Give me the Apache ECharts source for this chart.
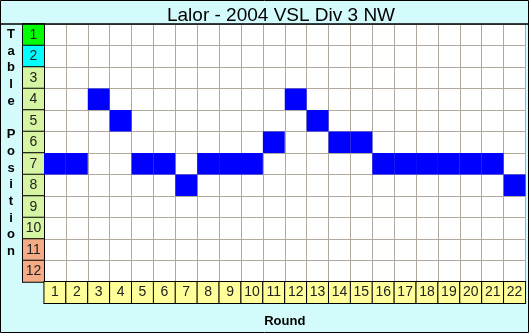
<!DOCTYPE html>
<html><head><meta charset="utf-8">
<script src="https://cdn.jsdelivr.net/npm/echarts@6/dist/echarts.min.js"></script>
<style>html,body{margin:0;padding:0;background:#fff}#c{width:529px;height:333px}</style>
</head><body><div id="c"></div>
<script>
const title = 'Lalor - 2004 VSL Div 3 NW';
const rounds = ['1','2','3','4','5','6','7','8','9','10','11','12','13','14','15','16','17','18','19','20','21','22'];
const positionLabels = ['1','2','3','4','5','6','7','8','9','10','11','12'];
const tablePosition = [7,7,4,5,7,7,8,7,7,7,6,4,5,6,6,7,7,7,7,7,7,8];
const rowColors = ['#00ff00','#00ffff','#d6f5a3','#d6f5a3','#d6f5a3','#d6f5a3','#d6f5a3','#d6f5a3','#d6f5a3','#d6f5a3','#f5ac86','#f5ac86'];

const chart = echarts.init(document.getElementById('c'), null, {renderer:'canvas'});
const yRich = {};
positionLabels.forEach((p,i)=>{
  yRich['r'+i] = {backgroundColor: rowColors[i], borderColor:'#000', borderWidth:1, width:21, height:21, lineHeight:21, align:'center', fontSize:14, color:'#222', fontFamily:'Arial, Liberation Sans'};
});
const cells = tablePosition.map((p,i)=>[i, p-1]);
chart.setOption({
  backgroundColor:'#d4fbfb',
  animation:false,
  title:{text:title, left:276, top:1, textAlign:'center', textStyle:{fontFamily:'Arial, Liberation Sans', fontSize:19, fontWeight:'normal', color:'#000'}},
  grid:{left:44, top:24, width:484, height:264, show:true, backgroundColor:'#fff', borderWidth:0},
  xAxis:{type:'category', data:rounds, position:'bottom',
    axisLine:{show:false}, axisTick:{show:false},
    splitLine:{show:true, interval:0, lineStyle:{color:'#b0a89e', width:1}},
    axisLabel:{interval:0, margin:0, formatter:v=>'{c|'+v+'}',
      rich:{c:{backgroundColor:'#ffff99', borderColor:'#000', borderWidth:1, width:21, height:21, lineHeight:21, align:'center', fontSize:14, color:'#222', fontFamily:'Arial, Liberation Sans'}}},
    name:'Round', nameLocation:'middle', nameGap:33,
    nameTextStyle:{fontFamily:'Arial, Liberation Sans', fontSize:13, fontWeight:'bold', color:'#000'}
  },
  yAxis:{type:'category', data:positionLabels, inverse:true,
    axisLine:{show:false}, axisTick:{show:false},
    splitLine:{show:true, interval:0, lineStyle:{color:'#b0a89e', width:1}},
    axisLabel:{interval:0, margin:0, formatter:(v)=>'{r'+positionLabels.indexOf(v)+'|'+v+'}', rich:yRich}
  },
  graphic:[
    {type:'rect', shape:{x:0,y:24,width:529,height:0}, style:{stroke:'#000', lineWidth:1}, silent:true, z:100},
    {type:'rect', shape:{x:0.5,y:0.5,width:528,height:332}, style:{fill:null, stroke:'#000', lineWidth:1}, silent:true, z:100},
    {type:'text', x:11, y:26, style:{text:'T\na\nb\nl\ne\n \nP\no\ns\ni\nt\ni\no\nn', font:'bold 13px Arial, Liberation Sans', fill:'#000', lineHeight:16.7, align:'center', verticalAlign:'top'}, z:100}
  ],
  series:[{
    type:'custom',
    data:cells,
    renderItem:(params, api)=>{
      const p = api.coord([api.value(0), api.value(1)]);
      const s = api.size([1,1]);
      return {type:'rect', shape:{x:p[0]-s[0]/2, y:p[1]-s[1]/2, width:s[0], height:s[1]}, style:{fill:'#0000ff'}};
    }
  }]
});
</script></body></html>
